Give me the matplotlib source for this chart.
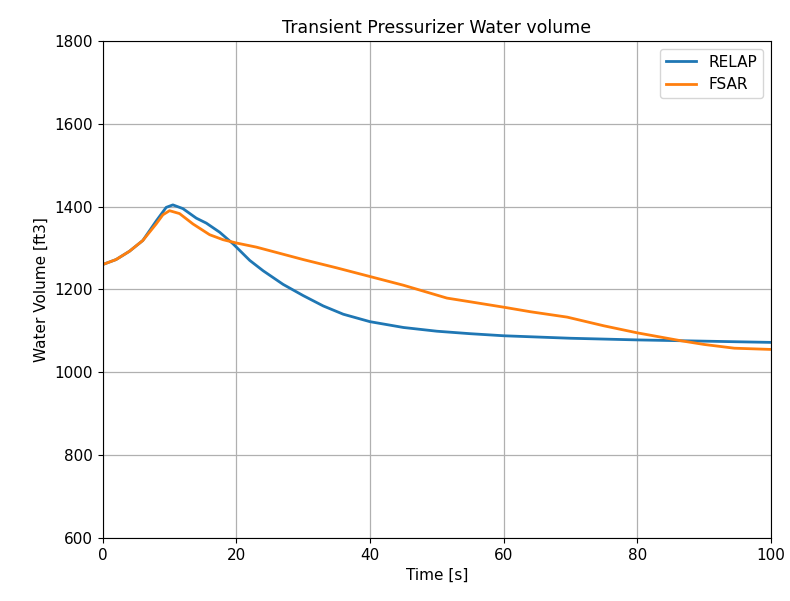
import matplotlib
matplotlib.use("Agg")
import matplotlib.pyplot as plt

# RELAP transient pressurizer water volume
relap_t = [0, 2, 4, 6, 8, 9.5, 10.5, 12, 14, 15.5, 17.5, 19.5, 22, 24, 27, 30, 33, 36, 40, 45, 50, 55, 60, 70, 80, 90, 100]
relap_v = [1260, 1272, 1292, 1318, 1365, 1398, 1404, 1395, 1372, 1360, 1338, 1310, 1270, 1245, 1212, 1185, 1160, 1140, 1122, 1108, 1099, 1093, 1088, 1082, 1078, 1075, 1072]

# FSAR transient pressurizer water volume
fsar_t = [0, 2, 4, 6, 8, 9, 10, 11.5, 13.5, 16, 18, 20, 23, 26.5, 30, 35, 40, 45, 51.5, 55, 60, 64, 69.5, 75, 80, 86.5, 90, 94.5, 100]
fsar_v = [1260, 1272, 1292, 1318, 1358, 1380, 1390, 1383, 1358, 1332, 1320, 1312, 1302, 1287, 1272, 1252, 1231, 1210, 1179, 1170, 1157, 1146, 1133, 1112, 1095, 1076, 1067, 1058, 1055]

fig = plt.figure(figsize=(7.9, 6.01), dpi=100)
ax = fig.add_axes([0.130, 0.105, 0.846, 0.827])

ax.plot(relap_t, relap_v, color="#1f77b4", lw=2, label="RELAP")
ax.plot(fsar_t, fsar_v, color="#ff7f0e", lw=2, label="FSAR")

ax.set_xlim(0, 100)
ax.set_ylim(600, 1800)
ax.set_xticks([0, 20, 40, 60, 80, 100])
ax.set_yticks(range(600, 1801, 200))
ax.tick_params(labelsize=11)
ax.grid(True, color="#b0b0b0", lw=0.9)
ax.set_xlabel("Time [s]", fontsize=11)
ax.set_ylabel("Water Volume [ft3]", fontsize=11)
ax.set_title("Transient Pressurizer Water volume", fontsize=12.5)
ax.legend(loc="upper right", fontsize=11)

fig.savefig("out.png", dpi=100)
